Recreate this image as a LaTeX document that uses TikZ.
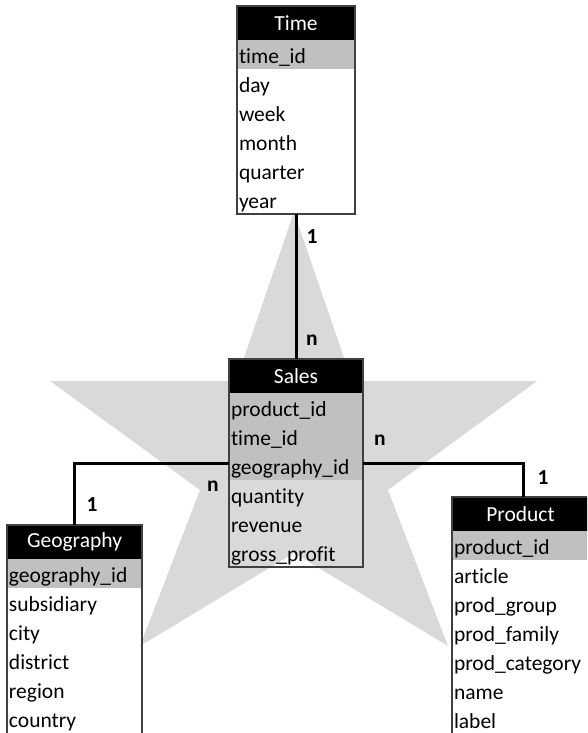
\documentclass[tikz,border=0pt]{standalone}
\usepackage{fontspec}
\setmainfont[Ligatures={NoCommon}]{Carlito}
\definecolor{stargray}{HTML}{D9D9D9}
\definecolor{keygray}{HTML}{C0C0C0}
\definecolor{rim}{HTML}{404040}
\begin{document}
\begin{tikzpicture}[x=1pt,y=-1pt,
  every node/.style={inner sep=0pt, outer sep=0pt},
  tfont/.style={font=\fontsize{21.5}{25}\selectfont},
  hdr/.style={tfont, anchor=north west, fill=black, text=white, minimum height=34pt},
  fld/.style={tfont, anchor=north west, minimum height=29pt, inner xsep=2pt,
              align=left, text height=18.5pt, text depth=0.5pt},
  key/.style={fld, fill=keygray},
  tablerim/.style={draw=rim, line width=1.5pt},
  link/.style={draw=black, line width=3pt},
  card/.style={font=\fontsize{21.5}{24}\selectfont\bfseries}]
\useasboundingbox (0,0) rectangle (587,733);
\clip (0,0) rectangle (587,733);

% star in the background
\fill[stargray] (294,212) -- (352,381) -- (537,381) -- (388,490) -- (448,646)
  -- (294,553) -- (140,646) -- (200,490) -- (50,381) -- (236,381) -- cycle;

% Time
\node[hdr, minimum width=118pt] (th) at (237,6) {Time};
\node[key, text width=114pt] (t1) at (th.south west) {time\_id};
\node[fld, text width=114pt] (t2) at (t1.south west) {day};
\node[fld, text width=114pt] (t3) at (t2.south west) {week};
\node[fld, text width=114pt] (t4) at (t3.south west) {month};
\node[fld, text width=114pt] (t5) at (t4.south west) {quarter};
\node[fld, text width=114pt] (t6) at (t5.south west) {year};
\draw[tablerim] (th.north west) rectangle (t6.south east);

% Sales
\node[hdr, minimum width=134pt] (sh) at (229,359) {Sales};
\node[key, text width=130pt] (s1) at (sh.south west) {product\_id};
\node[key, text width=130pt] (s2) at (s1.south west) {time\_id};
\node[key, text width=130pt] (s3) at (s2.south west) {geography\_id};
\node[fld, text width=130pt] (s4) at (s3.south west) {quantity};
\node[fld, text width=130pt] (s5) at (s4.south west) {revenue};
\node[fld, text width=130pt] (s6) at (s5.south west) {gross\_profit};
\draw[tablerim] (sh.north west) rectangle (s6.south east);

% Geography
\node[hdr, minimum width=135pt] (gh) at (7,525) {Geography};
\node[key, text width=131pt] (g1) at (gh.south west) {geography\_id};
\node[fld, text width=131pt] (g2) at (g1.south west) {subsidiary};
\node[fld, text width=131pt] (g3) at (g2.south west) {city};
\node[fld, text width=131pt] (g4) at (g3.south west) {district};
\node[fld, text width=131pt] (g5) at (g4.south west) {region};
\node[fld, text width=131pt] (g6) at (g5.south west) {country};
\draw[tablerim] (gh.north west) rectangle ([yshift=-2pt]g6.south east);

% Product
\node[hdr, minimum width=137pt] (ph) at (452,497) {Product};
\node[key, text width=133pt] (p1) at (ph.south west) {product\_id};
\node[fld, text width=133pt] (p2) at (p1.south west) {article};
\node[fld, text width=133pt] (p3) at (p2.south west) {prod\_group};
\node[fld, text width=133pt] (p4) at (p3.south west) {prod\_family};
\node[fld, text width=133pt] (p5) at (p4.south west) {prod\_category};
\node[fld, text width=133pt] (p6) at (p5.south west) {name};
\node[fld, text width=133pt] (p7) at (p6.south west) {label};
\draw[tablerim] (ph.north west) rectangle ([yshift=-2pt]p7.south east);

% relationships
\draw[link] (t6.south) -- (sh.north);
\draw[link] ([yshift=2pt]s3.west) -| (gh.north);
\draw[link] ([yshift=2pt]s3.east) -| ([xshift=2.5pt]ph.north);

% cardinalities
\node[card] (c1) at (312,237) {1};
\node[card] (c2) at (312,340) {n};
\node[card] (c3) at (213,486) {n};
\node[card] (c4) at (92,505) {1};
\node[card] (c5) at (380,440) {n};
\node[card] (c6) at (543,478) {1};
\end{tikzpicture}
\end{document}
